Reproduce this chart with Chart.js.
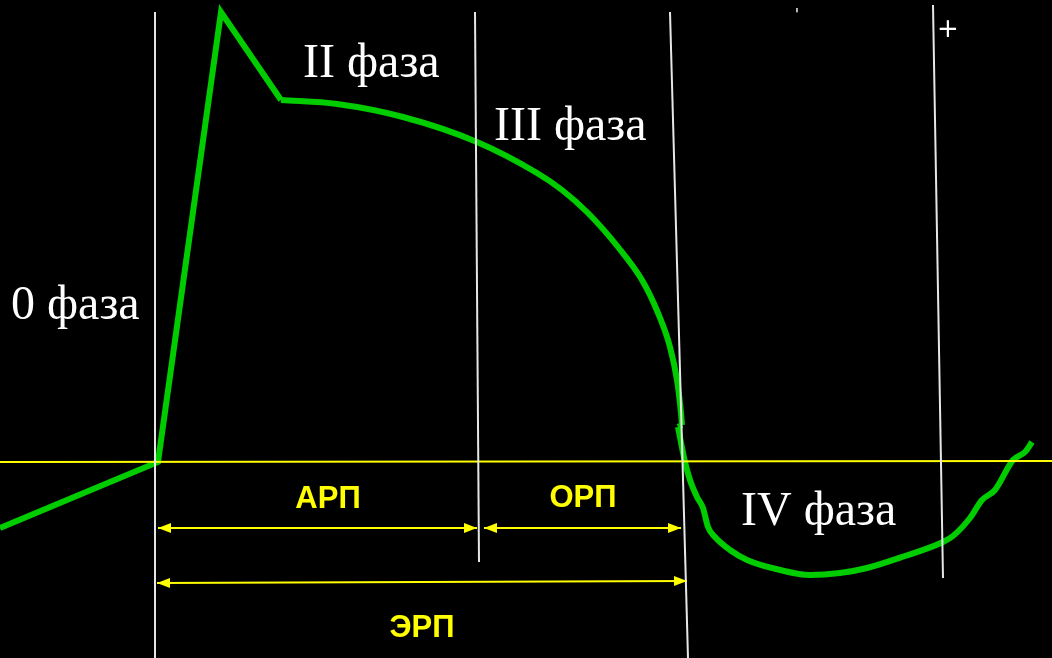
<!DOCTYPE html>
<html>
<head>
<meta charset="utf-8">
<script src="https://cdn.jsdelivr.net/npm/chart.js@4"></script>
<style>
  html, body { margin: 0; padding: 0; background: #000; }
  #wrap { width: 1052px; height: 658px; position: relative; }
</style>
</head>
<body>
<div id="wrap"><canvas id="ap"></canvas></div>
<script>
// Потенциал действия (координаты в условных единицах картинки)
const apX = [0,158,221,281,337,403,477,537,562,588,618,642,658,670,677,681,682,678,685,690,697,703,708,715,730,747,780,810,840,867,905,943,953,970,982,995,1013,1025,1032];
const apY = [528,462,12,100,104,117,142,173,190,213,247,280,313,347,380,413,425,427,462,480,497,508,527,537,550,560,570,575,573,568,556,542,536,518,500,490,460,452,442];
// до этой точки - ломаная, дальше - плавная кривая
const apBreak = 3;
const apKink = 16;

// Вертикальные отметки (верх / низ)
const markTopX = [155,475,670,933];
const markTopY = [12,12,12,5];
const markBotX = [155,479,688,943];
const markBotY = [658,562,658,578];

// Изолиния
const baseX = [0,1052];
const baseY = [462,461];

// Периоды рефрактерности
const periodNames = ['АРП','ОРП','ЭРП'];
const periodX1 = [158,484,157];
const periodX2 = [477,681,687];
const periodY1 = [528,528,583];
const periodY2 = [528,528,581];

// Подписи фаз
const phaseNames = ['II фаза','III фаза','0 фаза','IV фаза'];

const pts = (xs, ys) => xs.map((x, i) => ({x: x, y: ys[i]}));

let datasets = [];
for (let i = 0; i < markTopX.length; i++) {
    datasets.push({
        data: [{x: markTopX[i], y: markTopY[i]}, {x: markBotX[i], y: markBotY[i]}],
        borderColor: '#e6e6e6', borderWidth: 2, tension: 0
    });
}
datasets.push({ data: pts(baseX, baseY), borderColor: '#ffff00', borderWidth: 2, tension: 0 });
for (let i = 0; i < periodNames.length; i++) {
    datasets.push({
        label: periodNames[i],
        arrow: true,
        data: [{x: periodX1[i], y: periodY1[i]}, {x: periodX2[i], y: periodY2[i]}],
        borderColor: '#ffff00', borderWidth: 2, tension: 0
    });
}
const apAll = pts(apX, apY);
// фаза 0 и пик
datasets.push({
    data: apAll.slice(0, apBreak + 1),
    borderColor: '#00cc00', borderWidth: 6, borderJoinStyle: 'miter', tension: 0
});
// плато и реполяризация
datasets.push({
    data: apAll.slice(apBreak, apKink + 1),
    borderColor: '#00cc00', borderWidth: 6, cubicInterpolationMode: 'monotone'
});
// IV фаза
datasets.push({
    data: apAll.slice(apKink + 1),
    borderColor: '#00cc00', borderWidth: 6, cubicInterpolationMode: 'monotone'
});
datasets.push({
    data: apAll.slice(apKink, apKink + 2),
    borderColor: '#00cc00', borderWidth: 6, tension: 0
});
datasets.forEach(d => { d.showLine = true; d.pointRadius = 0; d.fill = false; });

// Текст: позиции в тех же единицах, что и данные
const textItems = [
    {t: phaseNames[0], x: 303, y: 77, font: '48px "Liberation Serif"', color: '#fff', align: 'left'},
    {t: phaseNames[1], x: 494, y: 140, font: '48px "Liberation Serif"', color: '#fff', align: 'left'},
    {t: phaseNames[2], x: 11, y: 319, font: '48px "Liberation Serif"', color: '#fff', align: 'left'},
    {t: phaseNames[3], x: 741, y: 525, font: '48px "Liberation Serif"', color: '#fff', align: 'left'},
    {t: periodNames[0], x: 328, y: 508, font: 'bold 31px "Liberation Sans"', color: '#ffff00', align: 'center'},
    {t: periodNames[1], x: 583, y: 507, font: 'bold 31px "Liberation Sans"', color: '#ffff00', align: 'center'},
    {t: periodNames[2], x: 422, y: 637, font: 'bold 31px "Liberation Sans"', color: '#ffff00', align: 'center'},
    {t: '+', x: 948, y: 37, font: '26px "DejaVu Sans"', color: '#fff', align: 'center'},
    {t: "'", x: 797, y: 20, font: '16px "DejaVu Sans"', color: '#fff', align: 'center'}
];

const extras = {
    id: 'extras',
    afterDatasetsDraw(chart) {
        const ctx = chart.ctx;
        const sx = chart.scales.x, sy = chart.scales.y;
        ctx.save();
        // стрелки
        chart.data.datasets.forEach(d => {
            if (!d.arrow) return;
            const a = d.data[0], b = d.data[1];
            const ax = sx.getPixelForValue(a.x), ay = sy.getPixelForValue(a.y);
            const bx = sx.getPixelForValue(b.x), by = sy.getPixelForValue(b.y);
            const ang = Math.atan2(by - ay, bx - ax);
            [[ax, ay, ang + Math.PI], [bx, by, ang]].forEach(p => {
                ctx.save();
                ctx.translate(p[0], p[1]);
                ctx.rotate(p[2]);
                ctx.fillStyle = '#ffff00';
                ctx.beginPath();
                ctx.moveTo(0, 0);
                ctx.lineTo(-13, -5);
                ctx.lineTo(-13, 5);
                ctx.closePath();
                ctx.fill();
                ctx.restore();
            });
        });
        // подписи
        ctx.textBaseline = 'alphabetic';
        textItems.forEach(it => {
            ctx.font = it.font;
            ctx.fillStyle = it.color;
            ctx.textAlign = it.align;
            ctx.fillText(it.t, sx.getPixelForValue(it.x), sy.getPixelForValue(it.y));
        });
        ctx.restore();
    }
};

new Chart(document.getElementById('ap'), {
    type: 'scatter',
    data: { datasets: datasets },
    options: {
        responsive: true,
        maintainAspectRatio: false,
        animation: false,
        layout: { padding: 0 },
        plugins: { legend: { display: false }, tooltip: { enabled: false } },
        scales: {
            x: { type: 'linear', min: 0, max: 1052, display: false },
            y: { type: 'linear', min: 0, max: 658, reverse: true, display: false }
        }
    },
    plugins: [extras]
});
</script>
</body>
</html>
